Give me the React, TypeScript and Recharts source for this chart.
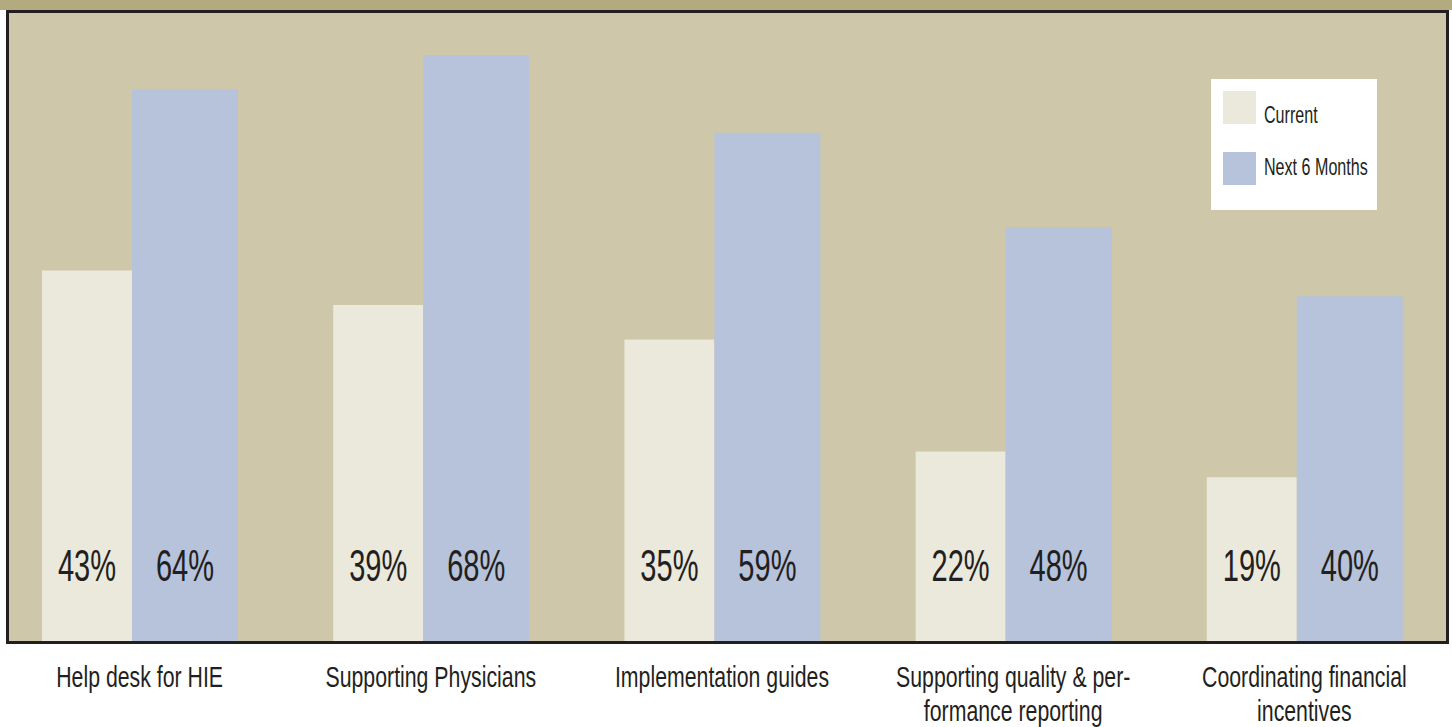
import React from "react";
import { BarChart, Bar, XAxis, YAxis, Legend, LabelList } from "recharts";

const categories = [
  "Help desk for HIE",
  "Supporting Physicians",
  "Implementation guides",
  "Supporting quality & performance reporting",
  "Coordinating financial incentives",
];
const tickLines = [
  ["Help desk for HIE"],
  ["Supporting Physicians"],
  ["Implementation guides"],
  ["Supporting quality & per-", "formance reporting"],
  ["Coordinating financial", "incentives"],
];
const currentValues = [43, 39, 35, 22, 19];
const nextValues = [64, 68, 59, 48, 40];
const seriesNames = ["Current", "Next 6 Months"];

const data = categories.map((c, i) => ({
  name: c,
  current: currentValues[i],
  next: nextValues[i],
}));

const FONT = '"Liberation Sans", Arial, sans-serif';
const INK = "#231f20";

const ValueLabel = (props: any) => {
  const { x, y, width, height, value } = props;
  const cx = Number(x) + Number(width) / 2;
  const bottom = Number(y) + Number(height);
  return (
    <text
      transform={`translate(${cx},${bottom - 60}) scale(0.66,1)`}
      textAnchor="middle"
      fontFamily={FONT}
      fontSize={44}
      fill={INK}
    >
      {`${value}%`}
    </text>
  );
};

const Tick = (props: any) => {
  const { x, y, index } = props;
  const lines: string[] = tickLines[index] || [];
  return (
    <g>
      {lines.map((ln, i) => (
        <text
          key={i}
          transform={`translate(${x},${Number(y) + 46 + i * 34}) scale(0.71,1)`}
          textAnchor="middle"
          fontFamily={FONT}
          fontSize={30}
          fill={INK}
        >
          {ln}
        </text>
      ))}
    </g>
  );
};

const LegendBox = (props: any) => {
  const payload = props.payload || [];
  return (
    <svg width={166} height={131} style={{ display: "block" }}>
      <rect x={0} y={0} width={166} height={131} fill="#ffffff" />
      {payload.map((p: any, i: number) => (
        <g key={i}>
          <rect x={12} y={12 + i * 61} width={33} height={33} fill={p.color} />
          <text
            transform={`translate(53,${44 + i * 52}) scale(0.7,1)`}
            fontFamily={FONT}
            fontSize={23}
            fill={INK}
          >
            {p.value}
          </text>
        </g>
      ))}
    </svg>
  );
};

export default function App() {
  return (
    <div
      style={{
        position: "absolute",
        left: 0,
        top: 0,
        width: 1452,
        height: 727,
        background: "#ffffff",
        overflow: "hidden",
      }}
    >
      <div
        style={{
          position: "absolute",
          left: 0,
          top: 0,
          width: 1452,
          height: 10,
          background: "#b3aa80",
        }}
      />
      <div
        style={{
          position: "absolute",
          left: 6,
          top: 10,
          width: 1443,
          height: 634,
          boxSizing: "border-box",
          border: `3px solid ${INK}`,
          background: "#cec7a9",
        }}
      />
      <div style={{ position: "absolute", left: -6, top: 0 }}>
        <BarChart
          width={1456}
          height={727}
          data={data}
          margin={{ top: 12, right: 0, left: 0, bottom: 0 }}
          barGap={0}
        >
          <XAxis
            dataKey="name"
            height={86}
            axisLine={false}
            tickLine={false}
            tickSize={0}
            tickMargin={0}
            interval={0}
            tick={<Tick />}
          />
          <YAxis hide domain={[0, 73]} />
          <Legend
            layout="horizontal"
            verticalAlign="middle"
            align="center"
            wrapperStyle={{ position: "absolute", left: 1217, top: 79, width: 166, height: 131 }}
            content={<LegendBox />}
          />
          <Bar
            dataKey="current"
            name={seriesNames[0]}
            fill="#ebe8dc"
            barSize={90}
            isAnimationActive={false}
          >
            <LabelList dataKey="current" content={<ValueLabel />} />
          </Bar>
          <Bar
            dataKey="next"
            name={seriesNames[1]}
            fill="#b7c2db"
            barSize={106}
            isAnimationActive={false}
          >
            <LabelList dataKey="next" content={<ValueLabel />} />
          </Bar>
        </BarChart>
      </div>
    </div>
  );
}
